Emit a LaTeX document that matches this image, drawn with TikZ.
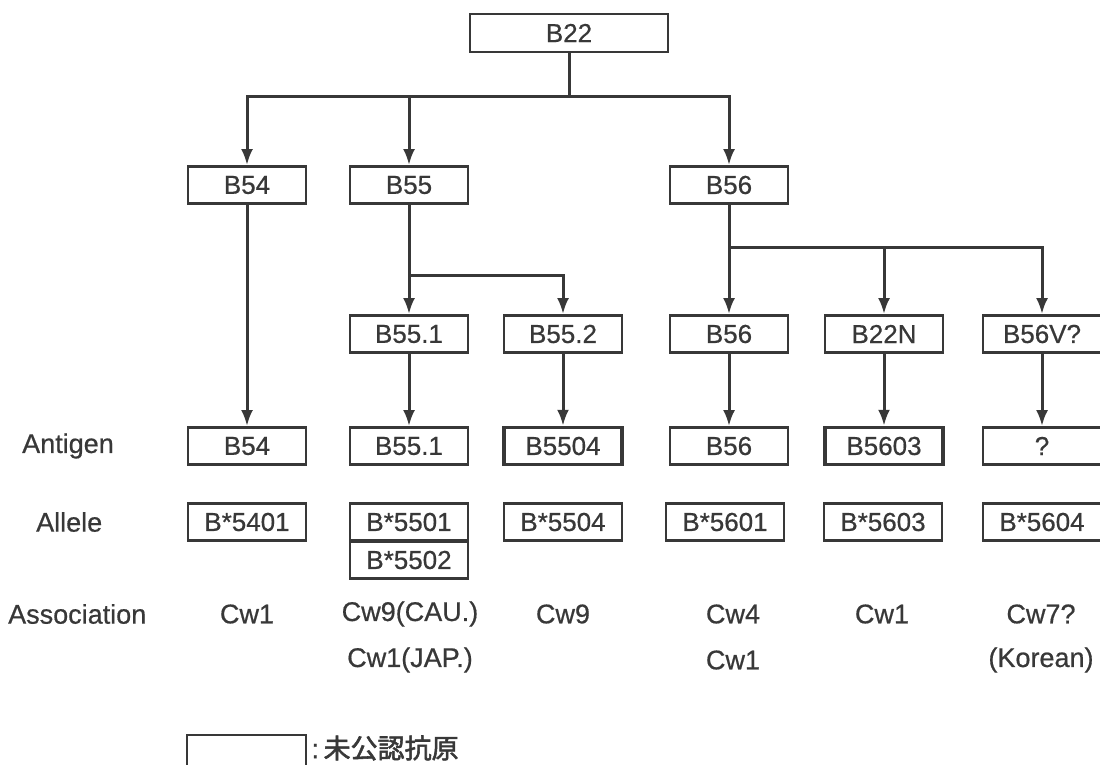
\documentclass[tikz,border=0pt]{standalone}
\usepackage{fontspec}
\setmainfont{Liberation Sans}[BoldFont={Liberation Sans},BoldFeatures={FakeBold=0.6}]
\newfontfamily\cjk{Noto Sans CJK JP}[BoldFont={Noto Sans CJK JP},BoldFeatures={FakeBold=2}]
\usetikzlibrary{arrows.meta}
\definecolor{ink}{gray}{0.22}
\tikzset{
  box/.style={draw=ink, line width=2.8pt, minimum width=118pt, minimum height=37pt, inner sep=0pt, text=ink, font=\fontsize{26}{28}\selectfont\bfseries},
  bigbox/.style={box, minimum width=198pt, minimum height=38pt},
  boldbox/.style={box, line width=3.4pt},
  conn/.style={draw=ink, line width=3pt},
  arr/.style={conn, -{Latex[length=16pt,width=12pt]}},
  lab/.style={text=ink, font=\fontsize{27}{30}\selectfont\bfseries, inner sep=0pt},
}
\begin{document}
\begin{tikzpicture}[x=1pt,y=-1pt]
\clip (0,0) rectangle (1100,765);
\fill[white] (0,0) rectangle (1100,765);
% row 1
\node[bigbox] (b22) at (569,33) {B22};
% row 2
\node[box] (b54) at (247,185) {B54};
\node[box] (b55) at (409,185) {B55};
\node[box] (b56) at (729,185) {B56};
% row 3
\node[box] (b551) at (409,334) {B55.1};
\node[box] (b552) at (563,334) {B55.2};
\node[box] (b56b) at (729,334) {B56};
\node[box] (b22n) at (884,334) {B22N};
\node[box] (b56v) at (1042,334) {B56V?};
% row 4 antigen
\node[box] (a54) at (247,446) {B54};
\node[box] (a551) at (409,446) {B55.1};
\node[boldbox] (a5504) at (563,446) {B5504};
\node[box] (a56) at (729,446) {B56};
\node[boldbox] (a5603) at (884,446) {B5603};
\node[box] (aq) at (1042,446) {?};
% row 5 allele
\node[box] (l5401) at (247,522) {B*5401};
\node[box] (l5501) at (409,522) {B*5501};
\node[box] (l5502) at (409,560) {B*5502};
\node[box] (l5504) at (563,522) {B*5504};
\node[box] (l5601) at (725,522) {B*5601};
\node[box] (l5603) at (883,522) {B*5603};
\node[box] (l5604) at (1042,522) {B*5604};
% row labels
\node[lab, anchor=west] (tant) at (22,446) {Antigen};
\node[lab, anchor=west] (tall) at (36,522) {Allele};
\node[lab, anchor=west] (tass) at (8,614) {Association};
% association
\node[lab] (s1) at (247,614) {Cw1};
\node[lab] (s2a) at (410,614) {Cw9(CAU.)};
\node[lab] (s2b) at (410,660) {Cw1(JAP.)};
\node[lab] (s3) at (563,614) {Cw9};
\node[lab] (s4a) at (733,614) {Cw4};
\node[lab] (s4b) at (733,660) {Cw1};
\node[lab] (s5) at (882,614) {Cw1};
\node[lab] (s6a) at (1041,614) {Cw7?};
\node[lab] (s6b) at (1041,660) {(Korean)};
% legend
\node[box, minimum width=119pt, minimum height=50pt] (leg) at (246.5,760) {};
\node[anchor=west, inner sep=0pt, text=ink, font=\fontsize{27}{30}\selectfont\bfseries] (legt) at ([xshift=4pt]leg.north east |- 0,748) {:\,{\cjk 未公認抗原}};
% connectors
\coordinate (j1) at (569,97);
\coordinate (j2) at (409,275);
\coordinate (j3) at (729,247);
\draw[conn] (b22) -- (j1);
\draw[arr] (j1) -| (b54);
\draw[arr] (j1) -| (b55);
\draw[arr] (j1) -| (b56);
\draw[arr] (b54) -- (a54);
\draw[conn] (b55) -- (j2);
\draw[arr] (j2) -- (b551);
\draw[arr] (j2) -| (b552);
\draw[conn] (b56) -- (j3);
\draw[arr] (j3) -- (b56b);
\draw[arr] (j3) -| (b22n);
\draw[arr] (j3) -| (b56v);
\draw[arr] (b551) -- (a551);
\draw[arr] (b552) -- (a5504);
\draw[arr] (b56b) -- (a56);
\draw[arr] (b22n) -- (a5603);
\draw[arr] (b56v) -- (aq);
\end{tikzpicture}
\end{document}
